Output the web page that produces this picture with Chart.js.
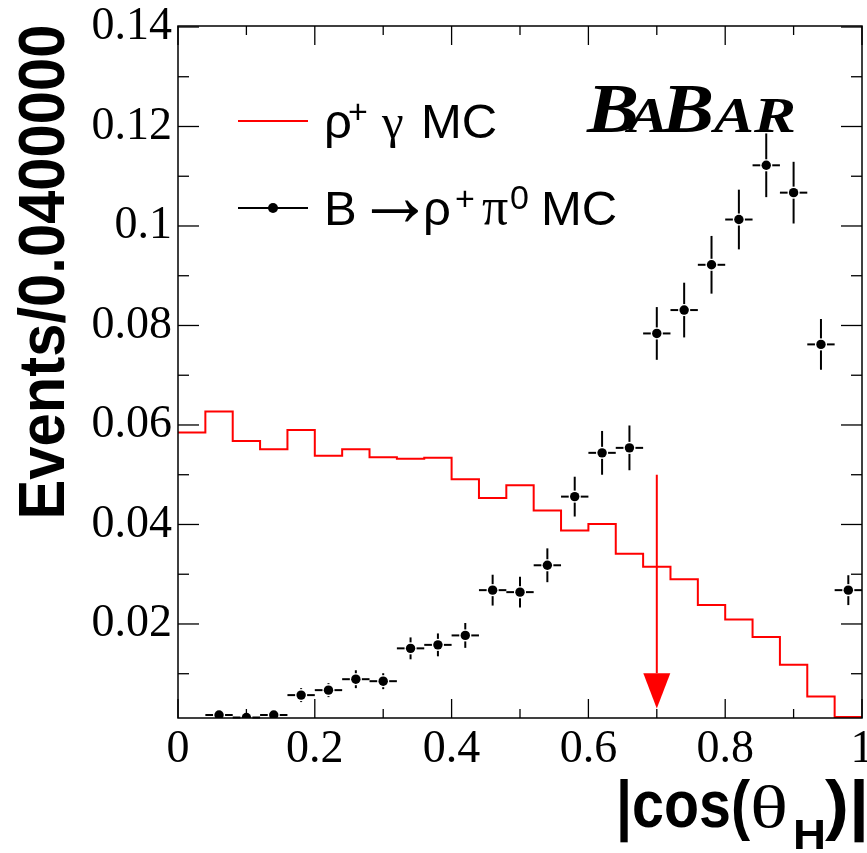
<!DOCTYPE html>
<html>
<head>
<meta charset="utf-8">
<script src="https://cdn.jsdelivr.net/npm/chart.js@4.4.1/dist/chart.umd.min.js"></script>
<style>
  html, body { margin: 0; padding: 0; background: #fff; }
  canvas { display: block; }
</style>
</head>
<body>
<canvas id="chart" width="867" height="853"></canvas>
<script>
// histogram bin edges (|cos(theta_H)|, width 0.04)
const binEdges = [0, 0.04, 0.08, 0.12, 0.16, 0.2, 0.24, 0.28, 0.32, 0.36, 0.4, 0.44, 0.48,
  0.52, 0.56, 0.6, 0.64, 0.68, 0.72, 0.76, 0.8, 0.84, 0.88, 0.92, 0.96, 1];
// rho+ gamma MC, one value per bin
const rhoGammaMC = [0.0585, 0.0627, 0.0568, 0.0551, 0.0590, 0.0538, 0.0551, 0.0535, 0.0532, 0.0534,
  0.0491, 0.0453, 0.0479, 0.0428, 0.0388, 0.0401, 0.0341, 0.0315, 0.0290, 0.0238,
  0.0209, 0.0174, 0.0118, 0.0054, 0.0013];

// B -> rho+ pi0 MC points (bin centres) and errors
const pointX = [0.06, 0.10, 0.14, 0.18, 0.22, 0.26, 0.30, 0.34, 0.38, 0.42, 0.46, 0.50,
  0.54, 0.58, 0.62, 0.66, 0.70, 0.74, 0.78, 0.82, 0.86, 0.90, 0.94, 0.98];
const rhoPi0MC = [0.0017, 0.0012, 0.0017, 0.0057, 0.0067, 0.0089, 0.0085, 0.0151, 0.0158, 0.0177,
  0.0268, 0.0264, 0.0318, 0.0456, 0.0544, 0.0554, 0.0784, 0.0831, 0.0922, 0.1013,
  0.1122, 0.1067, 0.0762, 0.0268];
const rhoPi0Err = [0.0009, 0.0010, 0.0009, 0.0014, 0.0014, 0.0018, 0.0016, 0.0022, 0.0023, 0.0025,
  0.0031, 0.0031, 0.0034, 0.0040, 0.0044, 0.0045, 0.0053, 0.0055, 0.0058, 0.0060,
  0.0064, 0.0062, 0.0051, 0.0030];
const halfBin = 0.02;

// axes
const xTicks = [0, 0.2, 0.4, 0.6, 0.8, 1];
const xTickLabels = ['0', '0.2', '0.4', '0.6', '0.8', '1'];
const xMinorTicks = [0.1, 0.3, 0.5, 0.7, 0.9];
const yTicks = [0.02, 0.04, 0.06, 0.08, 0.1, 0.12, 0.14];
const yTickLabels = ['0.02', '0.04', '0.06', '0.08', '0.1', '0.12', '0.14'];
const yMinorTicks = [0.01, 0.03, 0.05, 0.07, 0.09, 0.11, 0.13];

// cut arrow at |cos| = 0.7
const cutX = 0.7;
const arrowTop = 0.05;
const arrowHeadBase = 0.0101;
const arrowTip = 0.003;

const SANS = '"Liberation Sans", Arial, sans-serif';
const SERIF = '"Liberation Serif", "Times New Roman", serif';

function seg(ctx, x1, y1, x2, y2) {
  ctx.beginPath();
  ctx.moveTo(x1, y1);
  ctx.lineTo(x2, y2);
  ctx.stroke();
}

// draw text squeezed/stretched to a given advance width
function fitText(ctx, txt, font, x, y, width) {
  ctx.save();
  ctx.font = font;
  const w = ctx.measureText(txt).width;
  ctx.translate(x, y);
  ctx.scale(width / w, 1);
  ctx.fillText(txt, 0, 0);
  ctx.restore();
}

// draw a glyph so that its ink fills a given box
function fitBox(ctx, txt, font, l, t, r, b) {
  ctx.save();
  ctx.font = font;
  const m = ctx.measureText(txt);
  const iw = m.actualBoundingBoxLeft + m.actualBoundingBoxRight;
  const ih = m.actualBoundingBoxAscent + m.actualBoundingBoxDescent;
  const sx = (r - l) / iw, sy = (b - t) / ih;
  ctx.translate(l + m.actualBoundingBoxLeft * sx, t + m.actualBoundingBoxAscent * sy);
  ctx.scale(sx, sy);
  ctx.fillText(txt, 0, 0);
  ctx.restore();
}

// error bars with a gap round the marker
const errorBars = {
  id: 'errorBars',
  afterDatasetsDraw(chart) {
    const { ctx, scales: { x, y } } = chart;
    const meta = chart.getDatasetMeta(1);
    const gap = 6;
    ctx.save();
    ctx.strokeStyle = '#000';
    ctx.lineWidth = 2;
    meta.data.forEach((pt, i) => {
      const cx = pt.x, cy = pt.y;
      const xl = x.getPixelForValue(pointX[i] - halfBin);
      const xr = x.getPixelForValue(pointX[i] + halfBin);
      const yt = y.getPixelForValue(rhoPi0MC[i] + rhoPi0Err[i]);
      const yb = Math.min(y.getPixelForValue(rhoPi0MC[i] - rhoPi0Err[i]), chart.chartArea.bottom);
      if (cx - xl > gap) seg(ctx, xl, cy, cx - gap, cy);
      if (xr - cx > gap) seg(ctx, cx + gap, cy, xr, cy);
      if (cy - yt > gap) seg(ctx, cx, yt, cx, cy - gap);
      if (yb - cy > gap) seg(ctx, cx, cy + gap, cx, yb);
    });
    ctx.restore();
  }
};

// frame, inside ticks, arrow, legend, titles
const decorations = {
  id: 'decorations',
  afterDraw(chart) {
    const { ctx, chartArea: a, scales: { x, y } } = chart;
    ctx.save();

    // arrow
    const ax = x.getPixelForValue(cutX);
    const hb = y.getPixelForValue(arrowHeadBase);
    ctx.strokeStyle = '#ff0000';
    ctx.fillStyle = '#ff0000';
    ctx.lineWidth = 2;
    seg(ctx, ax, y.getPixelForValue(arrowTop), ax, hb);
    ctx.beginPath();
    ctx.moveTo(ax - 13.5, hb);
    ctx.lineTo(ax + 13.5, hb);
    ctx.lineTo(ax, y.getPixelForValue(arrowTip));
    ctx.closePath();
    ctx.fill();

    // frame and ticks
    ctx.strokeStyle = '#000';
    ctx.lineWidth = 1.5;
    ctx.strokeRect(a.left, a.top, a.right - a.left, a.bottom - a.top);
    ctx.lineWidth = 1.3;
    xTicks.forEach(v => {
      const p = x.getPixelForValue(v);
      seg(ctx, p, a.bottom, p, a.bottom - 19);
      seg(ctx, p, a.top, p, a.top + 19);
    });
    xMinorTicks.forEach(v => {
      const p = x.getPixelForValue(v);
      seg(ctx, p, a.bottom, p, a.bottom - 9);
      seg(ctx, p, a.top, p, a.top + 9);
    });
    yTicks.forEach(v => {
      const p = y.getPixelForValue(v);
      seg(ctx, a.left, p, a.left + 21, p);
      seg(ctx, a.right, p, a.right - 21, p);
    });
    yMinorTicks.forEach(v => {
      const p = y.getPixelForValue(v);
      seg(ctx, a.left, p, a.left + 11, p);
      seg(ctx, a.right, p, a.right - 11, p);
    });

    // legend
    ctx.lineWidth = 2;
    ctx.strokeStyle = '#ff0000';
    seg(ctx, 238, 121, 308, 121);
    ctx.strokeStyle = '#000';
    seg(ctx, 238, 208, 308, 208);
    ctx.fillStyle = '#000';
    ctx.beginPath();
    ctx.arc(273, 208, 5, 0, Math.PI * 2);
    ctx.fill();

    ctx.textAlign = 'left';
    ctx.textBaseline = 'alphabetic';
    ctx.font = '49px ' + SANS;
    ctx.fillText('\u03c1', 324, 138);
    ctx.font = '34px ' + SANS;
    ctx.fillText('+', 348, 123);
    ctx.font = '49px ' + SERIF;
    ctx.fillText('\u03b3', 382, 138);
    ctx.font = '49px ' + SANS;
    ctx.fillText('MC', 421, 138);

    ctx.fillText('B', 324, 225);
    fitBox(ctx, '\u2192', '49px ' + SANS, 372, 200, 418, 222);
    ctx.font = '49px ' + SANS;
    ctx.fillText('\u03c1', 423, 225);
    ctx.font = '34px ' + SANS;
    ctx.fillText('+', 455, 210);
    fitBox(ctx, '\u03c0', '52px ' + SERIF, 482, 200, 508, 225);
    ctx.font = '34px ' + SANS;
    ctx.fillText('0', 510, 209);
    ctx.font = '49px ' + SANS;
    ctx.fillText('MC', 541, 225);

    // BaBar logo
    fitText(ctx, 'B', 'italic bold 70px ' + SERIF, 587, 132, 52);
    fitText(ctx, 'A', 'italic bold 50px ' + SERIF, 628, 132, 40);
    fitText(ctx, 'B', 'italic bold 70px ' + SERIF, 662, 132, 52);
    fitText(ctx, 'A', 'italic bold 50px ' + SERIF, 714, 132, 40);
    fitText(ctx, 'R', 'italic bold 50px ' + SERIF, 754, 132, 42);

    // y title
    ctx.save();
    ctx.translate(64, 272);
    ctx.rotate(-Math.PI / 2);
    ctx.font = 'bold 65px ' + SANS;
    const yt = 'Events/0.0400000';
    const w = ctx.measureText(yt).width;
    ctx.scale(495 / w, 1);
    ctx.textAlign = 'center';
    ctx.fillText(yt, 0, 0);
    ctx.restore();

    // x title
    fitText(ctx, '|cos(', 'bold 66px ' + SANS, 616, 827, 134);
    fitText(ctx, '\u03b8', '60px ' + SERIF, 750, 827, 38);
    fitText(ctx, 'H', 'bold 42px ' + SANS, 793, 849, 33);
    fitText(ctx, ')|', 'bold 66px ' + SANS, 825, 827, 44);

    ctx.restore();
  }
};

const histData = binEdges.map((e, i) => ({ x: e, y: rhoGammaMC[Math.min(i, rhoGammaMC.length - 1)] }));
const pointData = pointX.map((v, i) => ({ x: v, y: rhoPi0MC[i] }));

new Chart(document.getElementById('chart'), {
  type: 'scatter',
  data: {
    datasets: [
      {
        type: 'line',
        label: '\u03c1+ \u03b3 MC',
        data: histData,
        stepped: 'before',
        borderColor: '#ff0000',
        borderWidth: 2,
        pointRadius: 0,
        fill: false,
      },
      {
        label: 'B \u2192 \u03c1+ \u03c00 MC',
        data: pointData,
        pointRadius: 4.7,
        pointBackgroundColor: '#000',
        pointBorderWidth: 0,
      },
    ],
  },
  options: {
    responsive: false,
    animation: false,
    devicePixelRatio: 1,
    layout: { padding: { left: 0, top: 26, right: 5, bottom: 0 } },
    plugins: { legend: { display: false }, tooltip: { enabled: false } },
    scales: {
      x: {
        type: 'linear',
        min: 0,
        max: 1,
        grid: { display: false, drawTicks: false },
        border: { display: false },
        afterBuildTicks: s => { s.ticks = xTicks.map(v => ({ value: v })); },
        afterFit: s => { s.height = 135; s.paddingLeft = 0; s.paddingRight = 0; },
        ticks: {
          autoSkip: false,
          maxRotation: 0,
          padding: 4,
          color: '#000',
          font: { family: SERIF, size: 46 },
          callback: (v, i) => xTickLabels[i],
        },
      },
      y: {
        min: 0.0011,
        max: 0.1402,
        grid: { display: false, drawTicks: false },
        border: { display: false },
        afterBuildTicks: s => { s.ticks = yTicks.map(v => ({ value: v })); },
        afterFit: s => { s.width = 178; s.paddingTop = 0; s.paddingBottom = 0; },
        ticks: {
          autoSkip: false,
          padding: 6,
          color: '#000',
          font: { family: SERIF, size: 46 },
          callback: (v, i) => yTickLabels[i],
        },
      },
    },
  },
  plugins: [errorBars, decorations],
});
</script>
</body>
</html>
